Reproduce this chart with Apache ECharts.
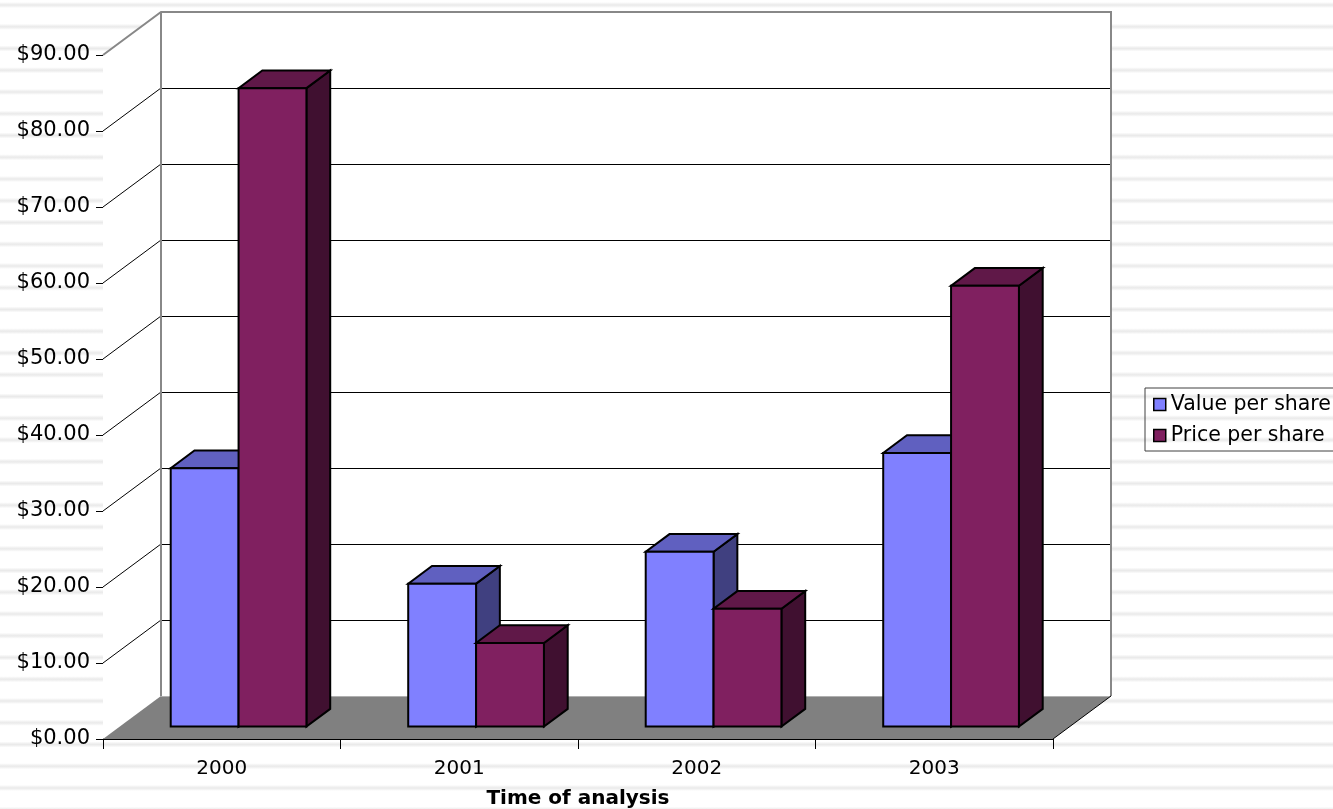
<!DOCTYPE html>
<html>
<head>
<meta charset="utf-8">
<script src="https://cdn.jsdelivr.net/npm/echarts@6/dist/echarts.min.js"></script>
<style>
  html, body { margin: 0; padding: 0; }
  body {
    width: 1333px;
    height: 809px;
    overflow: hidden;
    background: repeating-linear-gradient(180deg,
      #ffffff 0px, #ffffff 2px, #f0f0f0 4px, #eaeaea 5px, #f0f0f0 6px, #ffffff 8px, #ffffff 21.75px);
  }
  #chart { width: 1333px; height: 809px; }
</style>
</head>
<body>
<div id="chart"></div>
<script>
const years = ['2000', '2001', '2002', '2003'];
const valuePerShare = [34, 18.8, 23, 36];
const pricePerShare = [84, 11, 15.5, 58];
const yTicks = [0, 10, 20, 30, 40, 50, 60, 70, 80, 90];

// 3D look: offset of the back of the floor vs the front, and where bars sit in depth
const DX = 58, DY = -43;
const BAR_FRONT = 0.29, BAR_BACK = 0.70;

const valueColors = { front: '#8080FF', top: '#6060C0', side: '#404080' };
const priceColors = { front: '#802060', top: '#601848', side: '#401030' };

const FONT = 'DejaVu Sans';
const crisp = v => Math.round(v) + 0.5;

const chart = echarts.init(document.getElementById('chart'));

// walls, floor and gridlines of the 3D box
function renderWalls(params, api) {
  const cs = params.coordSys;
  const x0 = cs.x, x1 = cs.x + cs.width;
  const yb = api.coord([0, 0])[1];
  const yt = api.coord([0, yTicks[yTicks.length - 1]])[1];
  const children = [];

  children.push({
    type: 'rect',
    shape: { x: x0 + DX, y: yt + DY, width: x1 - x0, height: yb - yt },
    style: { fill: '#ffffff' }
  });
  children.push({
    type: 'polygon',
    shape: { points: [[x0, yb], [x0 + DX, yb + DY], [x0 + DX, yt + DY], [x0, yt]] },
    style: { fill: '#ffffff' }
  });
  children.push({
    type: 'polygon',
    shape: { points: [[x0, yb], [x1, yb], [x1 + DX, yb + DY], [x0 + DX, yb + DY]] },
    style: { fill: '#808080' }
  });

  yTicks.forEach(v => {
    if (v === 0 || v === yTicks[yTicks.length - 1]) return;
    const y = api.coord([0, v])[1];
    children.push({
      type: 'line',
      shape: { x1: x0 + DX, y1: crisp(y + DY), x2: x1 + DX, y2: crisp(y + DY) },
      style: { stroke: '#000', lineWidth: 1 }
    });
    children.push({
      type: 'line',
      shape: { x1: x0, y1: y, x2: x0 + DX, y2: y + DY },
      style: { stroke: '#000', lineWidth: 1 }
    });
  });

  // gray outline of the walls
  children.push({
    type: 'polyline',
    shape: { points: [[x0, yt], [x0 + DX, yt + DY], [x1 + DX, yt + DY], [x1 + DX, yb + DY]] },
    style: { stroke: '#888888', lineWidth: 2, fill: null }
  });
  children.push({
    type: 'line',
    shape: { x1: x0 + DX, y1: yt + DY, x2: x0 + DX, y2: yb + DY },
    style: { stroke: '#888888', lineWidth: 2 }
  });
  children.push({
    type: 'line',
    shape: { x1: x0 + DX, y1: crisp(yb + DY), x2: x1 + DX, y2: crisp(yb + DY) },
    style: { stroke: '#b0b0b0', lineWidth: 1 }
  });
  children.push({
    type: 'line',
    shape: { x1: x1, y1: yb, x2: x1 + DX, y2: yb + DY },
    style: { stroke: '#000', lineWidth: 1 }
  });

  return { type: 'group', children };
}

function makeBarRenderer(slot, colors) {
  return function (params, api) {
    const ci = api.value(0);
    const v = api.value(1);
    const band = api.size([1, 0])[0];
    const barW = band / 3.5;
    const base = api.coord([ci, 0]);
    const topY = api.coord([ci, v])[1];
    const left = base[0] - barW + slot * barW + BAR_FRONT * DX;
    const right = left + barW;
    const by = base[1] + BAR_FRONT * DY;
    const ty = topY + BAR_FRONT * DY;
    const dx = (BAR_BACK - BAR_FRONT) * DX;
    const dy = (BAR_BACK - BAR_FRONT) * DY;
    const line = { stroke: '#000', lineWidth: 2, lineJoin: 'miter' };
    return {
      type: 'group',
      children: [
        {
          type: 'polygon',
          shape: { points: [[right, ty], [right + dx, ty + dy], [right + dx, by + dy], [right, by]] },
          style: Object.assign({ fill: colors.side }, line)
        },
        {
          type: 'polygon',
          shape: { points: [[left, ty], [right, ty], [right + dx, ty + dy], [left + dx, ty + dy]] },
          style: Object.assign({ fill: colors.top }, line)
        },
        {
          type: 'rect',
          shape: { x: left, y: ty, width: barW, height: by - ty },
          style: Object.assign({ fill: colors.front }, line)
        }
      ]
    };
  };
}

const option = {
  backgroundColor: 'transparent',
  animation: false,
  textStyle: { fontFamily: FONT },
  grid: { left: 103, top: 55, width: 950, height: 684, outerBoundsMode: 'none', containLabel: false },
  legend: {
    data: ['Value per share', 'Price per share'],
    orient: 'vertical',
    left: 1145,
    top: 388,
    padding: [6, 12, 5, 8],
    itemGap: 10,
    itemWidth: 12,
    itemHeight: 12,
    icon: 'rect',
    borderColor: '#404040',
    borderWidth: 1,
    itemStyle: { borderColor: '#000', borderWidth: 1.5 },
    textStyle: { fontFamily: FONT, fontSize: 20.5, color: '#000', lineHeight: 20 }
  },
  xAxis: {
    type: 'category',
    data: years,
    name: 'Time of analysis',
    nameLocation: 'middle',
    nameGap: 50,
    nameTextStyle: { fontFamily: FONT, fontSize: 20, fontWeight: 'bold', color: '#000' },
    axisLine: { lineStyle: { color: '#000', width: 1 } },
    axisTick: { show: true, length: 10, lineStyle: { color: '#000' } },
    axisLabel: { fontFamily: FONT, fontSize: 20, color: '#000', margin: 20 },
    splitLine: { show: false }
  },
  yAxis: {
    type: 'value',
    min: 0,
    max: 90,
    interval: 10,
    axisLine: { show: true, lineStyle: { color: '#000', width: 1 } },
    axisTick: { show: true, length: 7, lineStyle: { color: '#000' } },
    axisLabel: {
      fontFamily: FONT, fontSize: 21, color: '#000', margin: 13,
      formatter: v => '$' + v.toFixed(2)
    },
    splitLine: { show: false }
  },
  series: [
    {
      type: 'custom',
      name: 'walls',
      z: 1,
      silent: true,
      renderItem: renderWalls,
      data: [[0, 0]],
      encode: { x: 0, y: 1 }
    },
    {
      type: 'custom',
      name: 'Value per share',
      z: 3,
      itemStyle: { color: valueColors.front },
      renderItem: makeBarRenderer(0, valueColors),
      data: years.map((y, i) => [i, valuePerShare[i]]),
      encode: { x: 0, y: 1 }
    },
    {
      type: 'custom',
      name: 'Price per share',
      z: 4,
      itemStyle: { color: priceColors.front },
      renderItem: makeBarRenderer(1, priceColors),
      data: years.map((y, i) => [i, pricePerShare[i]]),
      encode: { x: 0, y: 1 }
    }
  ]
};

chart.setOption(option);
</script>
</body>
</html>
